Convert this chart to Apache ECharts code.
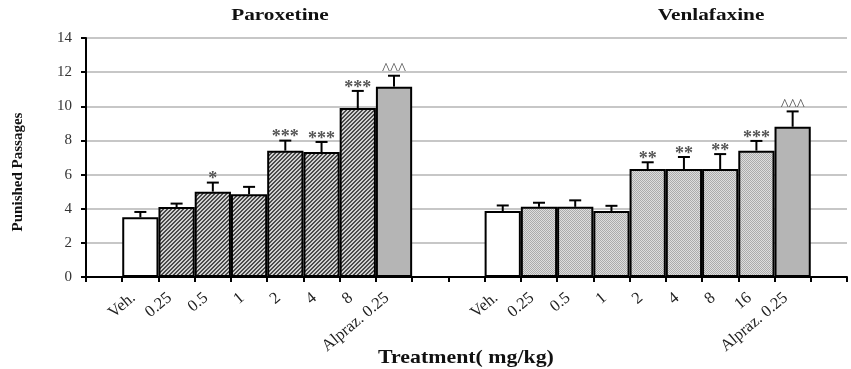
<!DOCTYPE html>
<html><head><meta charset="utf-8">
<script src="https://cdn.jsdelivr.net/npm/echarts@6/dist/echarts.min.js"></script>
<style>html,body{margin:0;padding:0;background:#fff}#c{width:851px;height:369px}</style>
</head><body><div id="c"></div>
<script>
// ---- data ----
const paroxetineDoses = ['Veh.', '0.25', '0.5', '1', '2', '4', '8', 'Alpraz. 0.25'];
const paroxetineMeans = [3.5, 4.1, 5.0, 4.85, 7.4, 7.32, 9.9, 11.15];
const paroxetineSEM   = [0.31, 0.2, 0.53, 0.43, 0.59, 0.59, 1.0, 0.64];
const paroxetineMarks = ['', '', '*', '', '***', '***', '***', '^^^'];

const venlafaxineDoses = ['Veh.', '0.25', '0.5', '1', '2', '4', '8', '16', 'Alpraz. 0.25'];
const venlafaxineMeans = [3.86, 4.11, 4.11, 3.86, 6.32, 6.32, 6.32, 7.4, 8.8];
const venlafaxineSEM   = [0.33, 0.24, 0.38, 0.31, 0.4, 0.71, 0.88, 0.57, 0.9];
const venlafaxineMarks = ['', '', '', '', '**', '**', '**', '***', '^^^'];

const panelTitles = ['Paroxetine', 'Venlafaxine'];
const yAxisTitle = 'Punished Passages';
const xAxisTitle = 'Treatment( mg/kg)';

// ---- patterns ----
function hatchCanvas() {
  const c = document.createElement('canvas'); c.width = 4; c.height = 4;
  const g = c.getContext('2d');
  g.fillStyle = '#cfcfcf'; g.fillRect(0, 0, 4, 4);
  g.fillStyle = '#4a4a4a';
  for (let k = 0; k < 4; k++) { g.fillRect(k, 3 - k, 1, 1); g.fillRect(k, (4 - k) % 4, 1, 1); }
  return c;
}
function dotCanvas() {
  const c = document.createElement('canvas'); c.width = 2; c.height = 2;
  const g = c.getContext('2d');
  g.fillStyle = '#dedede'; g.fillRect(0, 0, 2, 2);
  g.fillStyle = '#ababab'; g.fillRect(0, 0, 1, 1); g.fillRect(1, 1, 1, 1);
  return c;
}
const hatchFill = { image: hatchCanvas(), repeat: 'repeat' };
const dotFill = { image: dotCanvas(), repeat: 'repeat' };

// ---- build combined axis ----
const categories = [];
const barData = [];
const errData = [];
const markData = [];
function addEmpty() { categories.push(''); barData.push('-'); }
function addGroup(doses, means, sems, marks, drugFill) {
  doses.forEach((d, i) => {
    const idx = categories.length;
    categories.push(d);
    let fill = drugFill;
    if (i === 0) fill = '#ffffff';
    else if (i === doses.length - 1) fill = '#b5b5b5';
    barData.push({ value: means[i], itemStyle: { color: fill } });
    errData.push([idx, means[i], sems[i]]);
    markData.push(marks[i]);
  });
}
addEmpty();
addGroup(paroxetineDoses, paroxetineMeans, paroxetineSEM, paroxetineMarks, hatchFill);
addEmpty(); addEmpty();
addGroup(venlafaxineDoses, venlafaxineMeans, venlafaxineSEM, venlafaxineMarks, dotFill);
addEmpty();

const serif = '"Liberation Serif", "Times New Roman", serif';
function label(text, x, y, size, scaleX, rot) {
  return {
    type: 'text', x: x, y: y, scaleX: scaleX, rotation: rot || 0, z: 10,
    style: {
      text: text, font: 'bold ' + size + 'px ' + serif, fill: '#111',
      textAlign: 'center', textVerticalAlign: 'middle', align: 'center', verticalAlign: 'middle'
    }
  };
}
const chart = echarts.init(document.getElementById('c'), null, { renderer: 'canvas' });
chart.setOption({
  animation: false,
  backgroundColor: '#fff',
  graphic: [
    label(panelTitles[0], 280, 16, 17, 1.25),
    label(panelTitles[1], 711, 16, 17, 1.25),
    label(xAxisTitle, 466, 358, 19, 1.15),
    label(yAxisTitle, 18, 172, 15, 1, Math.PI / 2)
  ],
  grid: { left: 86, right: 4, top: 38, bottom: 92, containLabel: false },
  xAxis: {
    type: 'category', data: categories, boundaryGap: true,
    axisLine: { lineStyle: { color: '#000', width: 2 } },
    axisTick: { show: true, length: 5, lineStyle: { color: '#000', width: 2 } },
    axisLabel: { interval: 0, rotate: 40, margin: 13, padding: [0, 9, 0, 0], fontFamily: serif, fontSize: 16.5, color: '#222' },
    splitLine: { show: false }
  },
  yAxis: {
    type: 'value', min: 0, max: 14, interval: 2,
    axisLine: { show: true, lineStyle: { color: '#000', width: 2 } },
    axisTick: { show: true, length: 5, lineStyle: { color: '#000', width: 2 } },
    axisLabel: { fontFamily: serif, fontSize: 15, color: '#333', margin: 14 },
    splitLine: { show: true, lineStyle: { color: '#b4b4b4', width: 1.5 } }
  },
  series: [
    {
      type: 'bar', data: barData, barWidth: '100%', barGap: '0%', barCategoryGap: '0%',
      itemStyle: { borderColor: '#000', borderWidth: 2 }, z: 2
    },
    {
      type: 'custom', data: errData, z: 3,
      renderItem: function (params, api) {
        const i = api.value(0), m = api.value(1), e = api.value(2);
        const p0 = api.coord([i, m]), p1 = api.coord([i, m + e]);
        const w = 6;
        const children = [
          { type: 'line', shape: { x1: p0[0], y1: p0[1], x2: p1[0], y2: p1[1] }, style: { stroke: '#000', lineWidth: 2 } },
          { type: 'line', shape: { x1: p1[0] - w, y1: p1[1], x2: p1[0] + w, y2: p1[1] }, style: { stroke: '#000', lineWidth: 2 } }
        ];
        const mark = markData[params.dataIndex];
        if (mark) {
          const isCaret = mark.charAt(0) === '^';
          children.push({
            type: 'text',
            style: {
              text: mark, x: p1[0], y: p1[1] - (isCaret ? 6 : 3),
              align: 'center', verticalAlign: 'middle',
              font: isCaret ? ('17px ' + serif) : ('bold 18px ' + serif),
              fill: '#555'
            }
          });
        }
        return { type: 'group', children: children };
      }
    }
  ]
});
</script>
</body></html>
